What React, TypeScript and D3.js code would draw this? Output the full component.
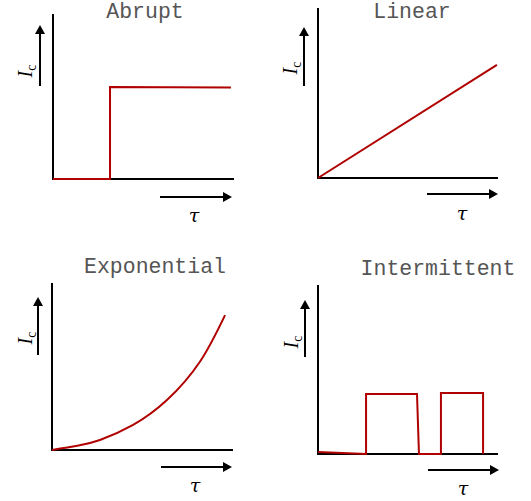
import * as d3 from 'd3'

// one entry per panel: title, then the curve as (tau, Ic) pairs in 0..10 units
const titles = ['Abrupt', 'Linear', 'Exponential', 'Intermittent']

const abruptTau = [0, 3.15, 3.15, 9.83]
const abruptIc = [0, 0, 5.58, 5.55]

const linearTau = [0, 9.94]
const linearIc = [0, 6.65]

const expTau = [0, 1.4, 2.65, 4.48, 6.35, 8.18, 9.56]
const expIc = [0, 0.25, 0.6, 1.5, 2.99, 5.3, 8.08]

const interTau = [0, 2.67, 2.67, 5.5, 5.61, 6.83, 6.83, 9.17, 9.17]
const interIc = [0.12, 0, 3.55, 3.55, 0, 0, 3.61, 3.61, 0]

const series = [
  { tau: abruptTau, ic: abruptIc, curve: d3.curveLinear },
  { tau: linearTau, ic: linearIc, curve: d3.curveLinear },
  { tau: expTau, ic: expIc, curve: d3.curveNatural },
  { tau: interTau, ic: interIc, curve: d3.curveLinear },
]

// layout of each small panel (pixel positions of the axes)
const panels = [
  { x0: 53, x1: 234, y0: 179, y1: 14, titleX: 145, titleY: 18, upX: 40, upTop: 25, upBot: 86, rY: 197, rX0: 160, rX1: 232, tauX: 194, tauY: 222, labX: 25, labY: 71 },
  { x0: 318, x1: 498, y0: 178, y1: 8, titleX: 412, titleY: 18, upX: 304, upTop: 27, upBot: 86, rY: 194, rX0: 427, rX1: 498, tauX: 462, tauY: 220, labX: 290, labY: 68 },
  { x0: 52, x1: 233, y0: 450, y1: 283, titleX: 155, titleY: 273, upX: 38, upTop: 297, upBot: 355, rY: 467, rX0: 161, rX1: 232, tauX: 195, tauY: 492, labX: 25, labY: 338 },
  { x0: 318, x1: 498, y0: 454, y1: 285, titleX: 438, titleY: 275, upX: 305, upTop: 300, upBot: 357, rY: 470, rX0: 428, rX1: 499, tauX: 463, tauY: 495, labX: 291, labY: 342 },
]

const RED = '#b00000'

function Panel({ i }: { i: number }) {
  const p = panels[i]
  const s = series[i]
  const x = d3.scaleLinear().domain([0, 10]).range([p.x0, p.x1])
  const y = d3.scaleLinear().domain([0, 10]).range([p.y0, p.y1])
  const pts: [number, number][] = s.tau.map((t, k) => [t, s.ic[k]])
  const line = d3
    .line<[number, number]>()
    .x((d) => x(d[0]))
    .y((d) => y(d[1]))
    .curve(s.curve)

  return (
    <g>
      <text
        x={p.titleX}
        y={p.titleY}
        textAnchor="middle"
        fontFamily="'Liberation Mono', 'DejaVu Sans Mono', monospace"
        fontSize={21.5}
        fill="#555"
      >
        {titles[i]}
      </text>
      {/* axes */}
      <path
        d={`M${x(0)},${y(10)}V${y(0)}H${x(10)}`}
        fill="none"
        stroke="#000"
        strokeWidth={2}
      />
      <path d={line(pts) || ''} fill="none" stroke={RED} strokeWidth={2} strokeLinejoin="miter" />
      {/* Ic arrow */}
      <line x1={p.upX} x2={p.upX} y1={p.upBot} y2={p.upTop + 6} stroke="#000" strokeWidth={2} />
      <path d={`M${p.upX},${p.upTop}l-5,9h10z`} fill="#000" />
      <text
        transform={`translate(${p.labX},${p.labY}) rotate(-90)`}
        textAnchor="middle"
        fontFamily="'Liberation Serif', 'DejaVu Serif', serif"
        fontSize={20}
        dy="0.35em"
      >
        <tspan fontStyle="italic">I</tspan>
        <tspan fontSize={14} dy={4}>c</tspan>
      </text>
      {/* tau arrow */}
      <line x1={p.rX0} x2={p.rX1 - 6} y1={p.rY} y2={p.rY} stroke="#000" strokeWidth={2} />
      <path d={`M${p.rX1},${p.rY}l-9,-5v10z`} fill="#000" />
      <text
        x={p.tauX}
        y={p.tauY}
        textAnchor="middle"
        fontFamily="'DejaVu Serif', 'Liberation Serif', serif"
        fontStyle="italic"
        fontSize={19}
      >
        τ
      </text>
    </g>
  )
}

export default function App() {
  return (
    <svg width={531} height={501} style={{ position: 'absolute', left: 0, top: 0, background: '#fff' }}>
      {titles.map((_, i) => (
        <Panel key={i} i={i} />
      ))}
    </svg>
  )
}
